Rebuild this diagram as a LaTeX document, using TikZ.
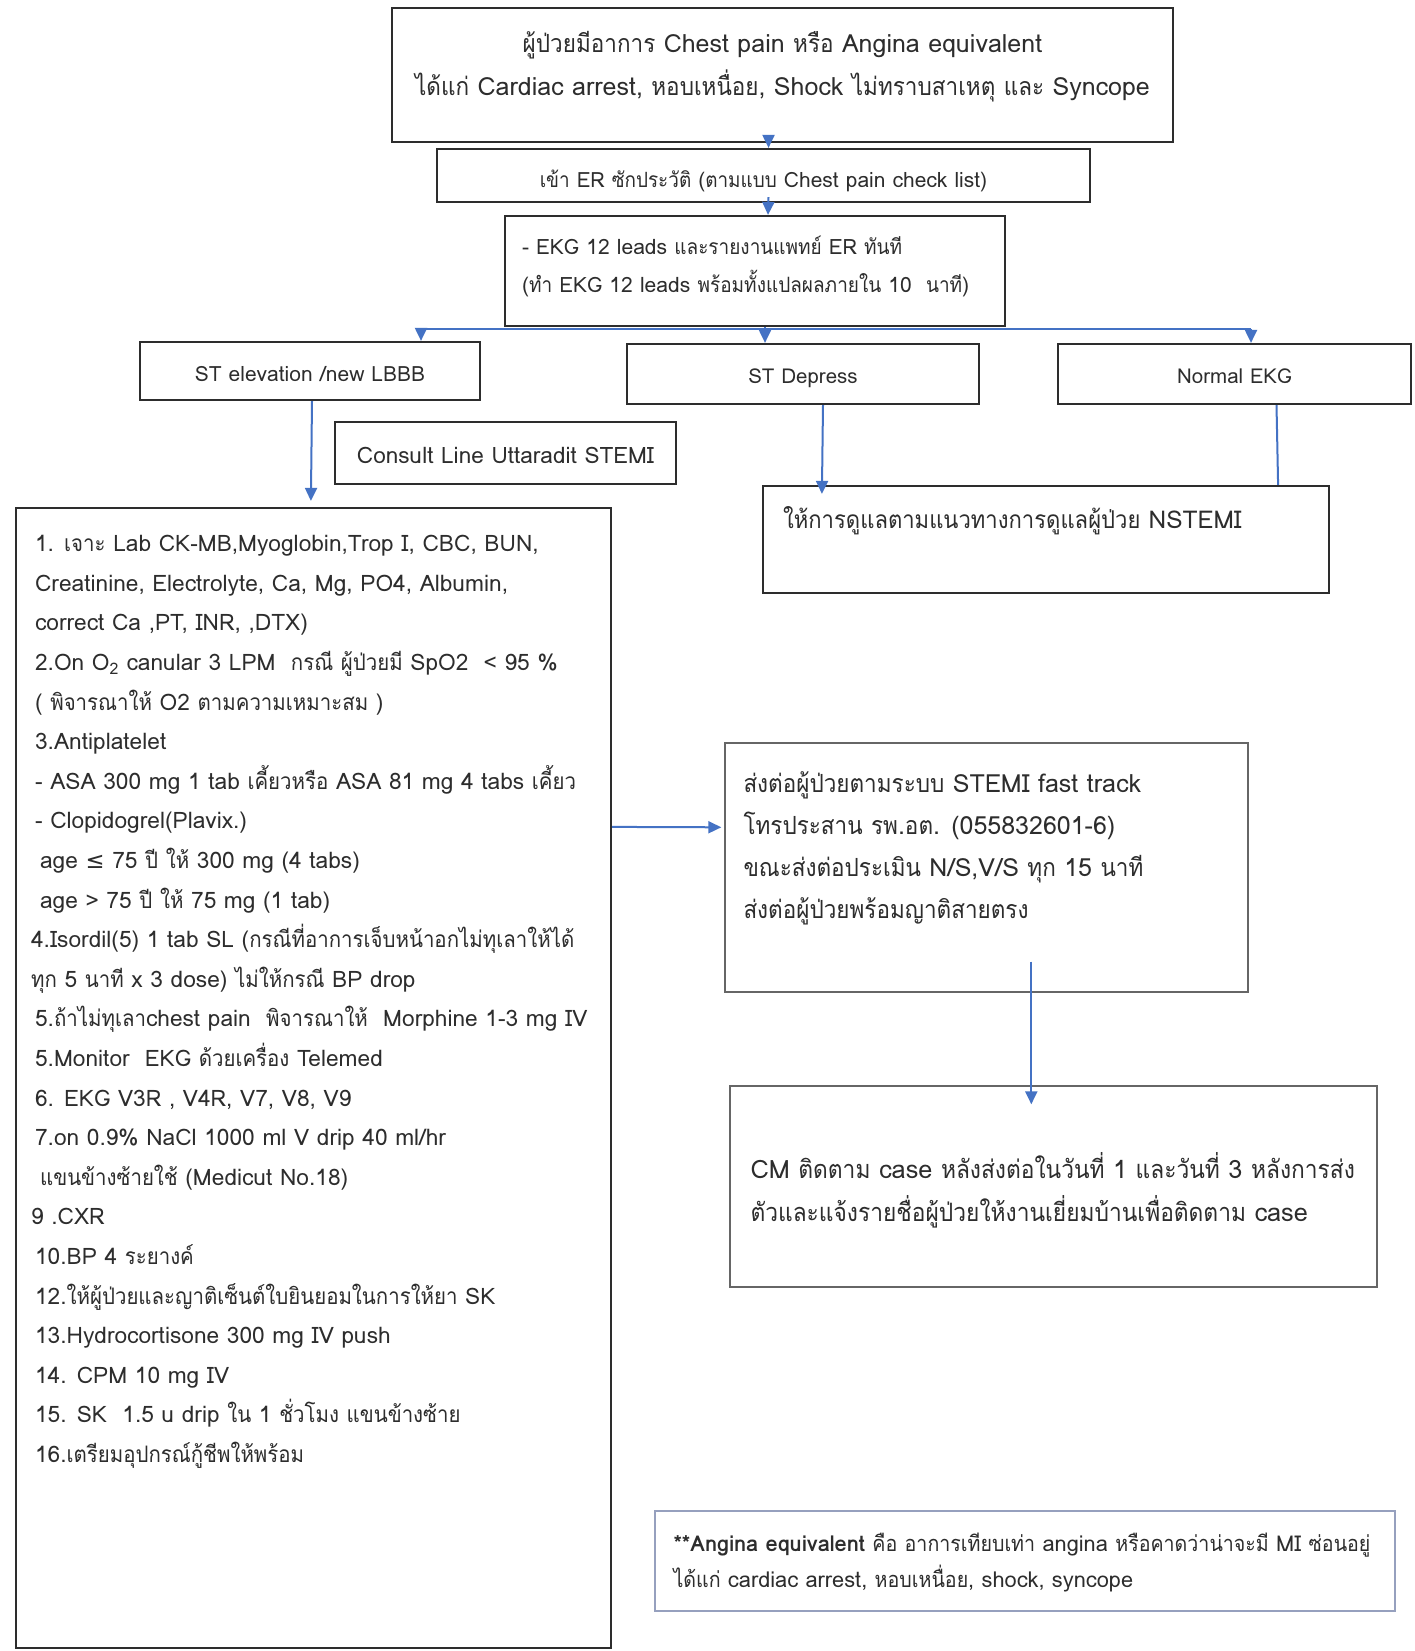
\documentclass[tikz,border=0pt]{standalone}
\usepackage{fontspec}
\setmainfont{Loma}
\newfontfamily\thaifont[Script=Thai,FakeStretch=0.9]{Loma}
\newfontfamily\symfont{DejaVu Sans}
\usetikzlibrary{arrows.meta,fit}

\XeTeXinterchartokenstate=1
\newXeTeXintercharclass\thaiclass
\count255="0E01
\loop \XeTeXcharclass\count255=\thaiclass \ifnum\count255<"0E7F \advance\count255 by 1 \repeat
\XeTeXinterchartoks 0 \thaiclass = {\thaifont}
\XeTeXinterchartoks 4095 \thaiclass = {\thaifont}
\XeTeXinterchartoks \thaiclass 0 = {\rmfamily}
\XeTeXinterchartoks \thaiclass 4095 = {\rmfamily}

\definecolor{arrowblue}{RGB}{68,114,196}
\definecolor{inkgray}{RGB}{45,45,45}
\definecolor{notegray}{RGB}{150,160,190}

\tikzset{
    box/.style={draw=inkgray, line width=2.2pt, inner sep=0pt},
    thinbox/.style={draw=black!60, line width=1.4pt, inner sep=0pt},
    notebox/.style={draw=notegray, line width=1.4pt, inner sep=0pt},
    arr/.style={draw=arrowblue, line width=2pt, -{Triangle[length=13pt,width=12pt]}},
    link/.style={draw=arrowblue, line width=2pt},
    bodytext/.style={text=inkgray, inner sep=0pt, align=left, font=\fontsize{22.7}{39.6}\selectfont},
    labeltext/.style={text=inkgray, inner sep=0pt, font=\fontsize{20.5}{38}\selectfont}
}

\begin{document}
\begin{tikzpicture}[x=1pt,y=-1pt]

            \fill[white] (0,0) rectangle (1415,1651);
            \useasboundingbox (0,0) rectangle (1415,1651);

            \node[box, fit={(392,8) (1173,142)}] (top) {};
            \node[box, fit={(437,149) (1090,202)},
                label={[labeltext, font=\fontsize{21}{38}\selectfont, yshift=-5pt]center:เข้า ER ซักประวัติ (ตามแบบ Chest pain check list)}] (er) {};
            \node[box, fit={(505,216) (1005,326)}] (ekg) {};
            \node[box, fit={(140,342) (480,400)},
                label={[labeltext, font=\fontsize{21}{38}\selectfont, yshift=-3pt]center:ST elevation /new LBBB}] (stelev) {};
            \node[box, fit={(627,344) (979,404)}, label={[labeltext, yshift=-4pt]center:ST Depress}] (stdep) {};
            \node[box, fit={(1058,344) (1411,404)}, label={[labeltext, yshift=-2pt]center:Normal EKG}] (normal) {};
            \node[box, fit={(335,422) (676,484)},
                label={[labeltext, font=\fontsize{22.6}{38}\selectfont, yshift=-2pt]center:Consult Line Uttaradit STEMI}] (consult) {};
            \node[box, fit={(763,486) (1329,593)}] (nstemi) {};
            \node[box, fit={(16,508) (611,1648)}] (leftbox) {};
            \node[thinbox, fit={(725,743) (1248,992)}] (fast) {};
            \node[thinbox, fit={(730,1086) (1377,1287)}] (cm) {};
            \node[notebox, fit={(655,1511) (1395,1611)}] (note) {};

            \node[bodytext, align=center, font=\fontsize{25}{43}\selectfont] (toptext) at ([yshift=-60pt]top.north)
                {ผู้ป่วยมีอาการ Chest pain หรือ Angina equivalent\\ได้แก่ Cardiac arrest, หอบเหนื่อย, Shock ไม่ทราบสาเหตุ และ Syncope};
            \node[bodytext, anchor=west, font=\fontsize{21.1}{38}\selectfont] (ekgtext) at ([xshift=18pt,yshift=-52pt]ekg.north west)
                {- EKG 12 leads และรายงานแพทย์ ER ทันที\\(ทำ EKG 12 leads พร้อมทั้งแปลผลภายใน 10~ นาที)};
            \node[bodytext, anchor=west, font=\fontsize{24.5}{42}\selectfont] (nstemitext) at ([xshift=21pt,yshift=-36pt]nstemi.north west)
                {ให้การดูแลตามแนวทางการดูแลผู้ป่วย NSTEMI};
            \node[bodytext, anchor=west, font=\fontsize{25}{42}\selectfont] (fasttext) at ([xshift=19pt,yshift=-106pt]fast.north west)
                {ส่งต่อผู้ป่วยตามระบบ STEMI fast track\\โทรประสาน รพ.อต. (055832601-6)\\ขณะส่งต่อประเมิน N/S,V/S ทุก 15 นาที\\ส่งต่อผู้ป่วยพร้อมญาติสายตรง};
            \node[bodytext, anchor=west, font=\fontsize{25.3}{43}\selectfont] (cmtext) at ([xshift=21pt,yshift=-104.5pt]cm.north west)
                {CM ติดตาม case หลังส่งต่อในวันที่ 1 และวันที่ 3 หลังการส่ง\\ตัวและแจ้งรายชื่อผู้ป่วยให้งานเยี่ยมบ้านเพื่อติดตาม case};
            \node[bodytext, anchor=west, font=\fontsize{21.8}{36}\selectfont] (notetext) at ([xshift=19pt,yshift=-52pt]note.north west)
                {\textbf{**Angina equivalent} คือ อาการเทียบเท่า angina หรือคาดว่าน่าจะมี MI ซ่อนอยู่\\ได้แก่ cardiac arrest, หอบเหนื่อย, shock, syncope};
            \node[bodytext, anchor=west] (lefttext) at ([xshift=20pt,yshift=-495pt]leftbox.north west)
                {1. เจาะ Lab CK-MB,Myoglobin,Trop I, CBC, BUN,\\
                Creatinine, Electrolyte, Ca, Mg, PO4, Albumin,\\
                correct Ca ,PT, INR, ,DTX)\\
                2.On O\textsubscript{2} canular 3 LPM~ กรณี ผู้ป่วยมี SpO2~ < 95 \%\\
                ( พิจารณาให้ O2 ตามความเหมาะสม )\\
                3.Antiplatelet\\
                - ASA 300 mg 1 tab เคี้ยวหรือ ASA 81 mg 4 tabs เคี้ยว\\
                - Clopidogrel(Plavix.)\\
                \hspace{5pt}age {\symfont ≤} 75 ปี ให้ 300 mg (4 tabs)\\
                \hspace{5pt}age > 75 ปี ให้ 75 mg (1 tab)\\
                \hspace{-4pt}4.Isordil(5) 1 tab SL (กรณีที่อาการเจ็บหน้าอกไม่ทุเลาให้ได้\\
                \hspace{-4pt}ทุก 5 นาที x 3 dose) ไม่ให้กรณี BP drop\\
                5.ถ้าไม่ทุเลาchest pain~ พิจารณาให้~ Morphine 1-3 mg IV\\
                5.Monitor~ EKG ด้วยเครื่อง Telemed\\
                6. EKG V3R , V4R, V7, V8, V9\\
                7.on 0.9\% NaCl 1000 ml V drip 40 ml/hr\\
                \hspace{5pt}แขนข้างซ้ายใช้ (Medicut No.18)\\
                \hspace{-4pt}9 .CXR\\
                10.BP 4 ระยางค์\\
                12.ให้ผู้ป่วยและญาติเซ็นต์ใบยินยอมในการให้ยา SK\\
                13.Hydrocortisone 300 mg IV push\\
                14. CPM 10 mg IV\\
                15. SK~ 1.5 u drip ใน 1 ชั่วโมง แขนข้างซ้าย\\
                16.เตรียมอุปกรณ์กู้ชีพให้พร้อม};

            \coordinate (bl) at (421,329);
            \coordinate (bm) at (765,329);
            \coordinate (br) at (1251,329);

            \draw[arr] ([xshift=-14pt,yshift=8pt]top.south) -- ([xshift=5pt]er.north);
            \draw[arr] ([xshift=5pt,yshift=6pt]er.south) -- ([xshift=13pt]ekg.north);
            \draw[link] ([xshift=10pt]ekg.south) -- (bm);
            \draw[link] (bl) -- (br);
            \draw[arr] (bl) -- (bl |- stelev.north);
            \draw[arr] (bm) -- (bm |- stdep.north);
            \draw[arr] (br) -- (br |- normal.north);
            \draw[arr] ([xshift=2pt]stelev.south) -- ([xshift=296pt,yshift=6pt]leftbox.north west);
            \draw[arr] ([xshift=20pt]stdep.south) -- ([xshift=60pt,yshift=-9pt]nstemi.north west);
            \draw[link] ([xshift=42pt]normal.south) -- ([xshift=-52pt]nstemi.north east);
            \draw[arr] ([yshift=-320pt]leftbox.north east) -- ([xshift=-3pt,yshift=-85pt]fast.north west);
            \draw[arr] ([xshift=307pt,yshift=31pt]fast.south west) -- ([xshift=302pt,yshift=-19pt]cm.north west);
        \end{tikzpicture}
\end{document}
